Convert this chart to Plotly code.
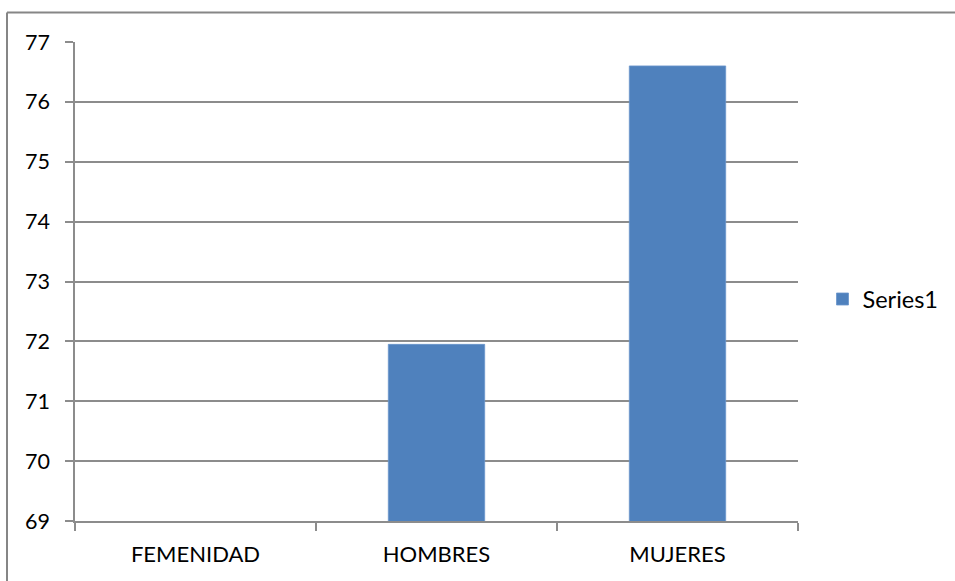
import plotly.graph_objects as go

categories = ["FEMENIDAD", "HOMBRES", "MUJERES"]
values = [None, 71.95, 76.6]
series_name = "Series1"
y_ticks = [69, 70, 71, 72, 73, 74, 75, 76, 77]

W, H = 955, 581
L, R, T, B = 75, 157, 41.5, 60
PW, PH = W - L - R, H - T - B

fig = go.Figure()
fig.add_trace(go.Bar(
    x=categories, y=values, name=series_name,
    marker=dict(color="#4F81BD", line=dict(color="#6A96CC", width=0.8)),
    width=0.4,
))

grid = "#8C8C8C"
font = "Lato, 'Open Sans', sans-serif"
bx = (7 - L) / PW
by = (H - B - 12) / PH
border = dict(color="#868686", width=2)
fig.update_layout(
    width=W, height=H,
    margin=dict(l=L, r=R, t=T, b=B, pad=0, autoexpand=False),
    paper_bgcolor="white", plot_bgcolor="white",
    font=dict(family=font, size=18, color="black"),
    showlegend=True,
    legend=dict(x=(822.5 - L) / PW, y=(H - B - 299) / PH, xanchor="left", yanchor="middle",
                font=dict(size=23.5, family=font, color="black"), itemwidth=30,
                bgcolor="rgba(0,0,0,0)"),
    xaxis=dict(
        type="category", tickson="boundaries", ticks="outside", ticklen=8,
        tickcolor=grid, tickwidth=1.5, showline=True, linecolor=grid, linewidth=1.5,
        showgrid=False, tickfont=dict(size=22, family=font, color="black"),
        ticklabelstandoff=13, fixedrange=True,
    ),
    yaxis=dict(
        range=[69, 77], tickvals=y_ticks, ticks="outside", ticklen=8,
        tickcolor=grid, tickwidth=1.5, showline=True, linecolor=grid, linewidth=1.5,
        showgrid=True, gridcolor=grid, gridwidth=1.5, zeroline=False,
        tickfont=dict(size=21.5, family=font, color="black"), ticklabelstandoff=11,
        fixedrange=True,
    ),
    shapes=[
        dict(type="line", xref="paper", yref="paper", x0=bx, x1=1.4, y0=by, y1=by,
             line=border, layer="below"),
        dict(type="line", xref="paper", yref="paper", x0=bx, x1=bx, y0=by, y1=-0.3,
             line=border, layer="below"),
    ],
)

fig.write_html("out.html", config={"displayModeBar": False},
               post_script="document.body.style.margin='0';")
